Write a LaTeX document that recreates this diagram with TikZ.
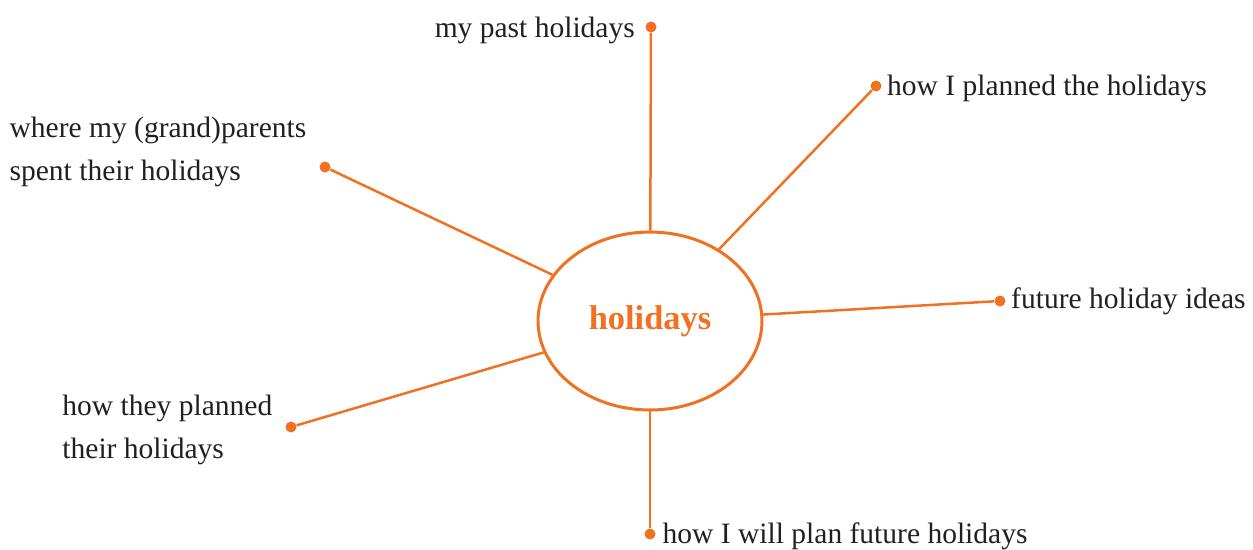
\documentclass[tikz,border=0pt]{standalone}
\usepackage{fontspec}
\setmainfont{Liberation Serif}
\usetikzlibrary{positioning,shapes.geometric}
\definecolor{mindorange}{HTML}{F07122}
\definecolor{mindtext}{HTML}{231F20}
\tikzset{
	spoke/.style={line width=0.5mm, color=mindorange},
	knob/.style={circle, fill=mindorange, inner sep=0pt, minimum size=2.2mm},
	idea/.style={text=mindtext, font=\fontsize{16.8}{24}\selectfont, inner sep=0pt, align=left},
}

\begin{document}
\begin{tikzpicture}[x=0.02cm, y=-0.02cm]
			%%%%% START %%%%%
			
			\useasboundingbox (0, 0) rectangle (1253, 549);
			
			\node[ellipse, draw=mindorange, line width=0.6mm, minimum width=4.48cm, minimum height=3.56cm, text=mindorange, font=\bfseries\fontsize{19.6}{23}\selectfont] (hub) at (650, 321) {holidays};
			
			\node[knob] (past) at (651, 27) {};
			\node[knob] (planned) at (876, 86) {};
			\node[knob] (future) at (1000, 301) {};
			\node[knob] (willplan) at (650, 534) {};
			\node[knob] (theyplanned) at (291, 427) {};
			\node[knob] (grandparents) at (325, 167) {};
			
			\draw[spoke] (past) -- (hub);
			\draw[spoke] (planned) -- (hub);
			\draw[spoke] (future) -- (hub);
			\draw[spoke] (willplan) -- (hub);
			\draw[spoke] (theyplanned) -- (hub);
			\draw[spoke] (grandparents) -- (hub);
			
			\node[idea, left=2mm of past, yshift=-0.6mm] (pastlabel) {my past holidays};
			\node[idea, right=1mm of planned, yshift=-0.4mm] (plannedlabel) {how I planned the holidays};
			\node[idea, right=1mm of future] (futurelabel) {future holiday ideas};
			\node[idea, right=1.3mm of willplan, yshift=-0.4mm] (willplanlabel) {how I will plan future holidays};
			\node[idea, left=2.5mm of theyplanned, yshift=-0.6mm] (theyplannedlabel) {how they planned\\their holidays};
			\node[idea, left=2.5mm of grandparents, yshift=3mm] (grandparentslabel) {where my (grand)parents\\spent their holidays};
			
			%%%%% END %%%%%
\end{tikzpicture}
\end{document}
